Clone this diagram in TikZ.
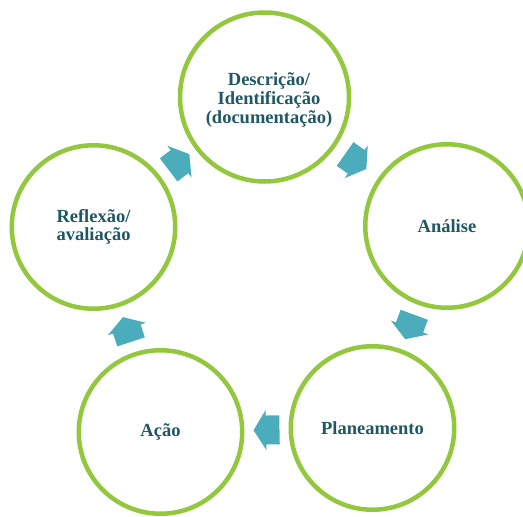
\documentclass[tikz,border=0pt]{standalone}
\usepackage{fontspec}
\setmainfont{Liberation Serif}
\usetikzlibrary{calc}
\definecolor{ringgreen}{RGB}{146,199,62}
\definecolor{arrowteal}{RGB}{75,173,187}
\definecolor{labelteal}{RGB}{31,88,100}
\begin{document}
\begin{tikzpicture}[x=1pt,y=-1pt,
  labeltext/.style={font=\fontsize{18.5}{18.7}\selectfont\bfseries, text=labelteal},
  ring/.style={circle, draw=ringgreen, line width=4.5pt, minimum size=163.5pt, inner sep=0pt, labeltext},
  bigring/.style={ring, minimum size=169pt},
  arrowfill/.style={fill=arrowteal, draw=none}]
\useasboundingbox (0,0) rectangle (523,517);
\node[bigring] (t) at (264.5,97) {};
\node[labeltext, align=center, inner sep=0pt] (ttext) at (269,100) {Descrição/\\Identificação\\(documentação)};
\node[ring] (r) at (447,226) {Análise};
\node[ring] (br) at (372.5,428) {Planeamento};
\node[ring] (bl) at (160.5,432) {Ação};
\node[ring, align=left] (l) at (93.5,227) {Reflexão/\\avaliação};
\foreach \s/\e in {l/t, t/r, r/br, br/bl, bl/l}{
  \path let \p1=(\s.center), \p2=(\e.center), \n1={atan2(\y2-\y1,\x2-\x1)} in
    \pgfextra{\xdef\arrang{\n1}};
  \fill[arrowfill, shift={($(\s.center)!0.5!(\e.center)$)}, rotate=\arrang]
    (13,0) -- (0.5,20) -- (0.5,14.5) -- (-13,14.5) -- (-13,-14.5) -- (0.5,-14.5) -- (0.5,-20) -- cycle;
}
\end{tikzpicture}
\end{document}
